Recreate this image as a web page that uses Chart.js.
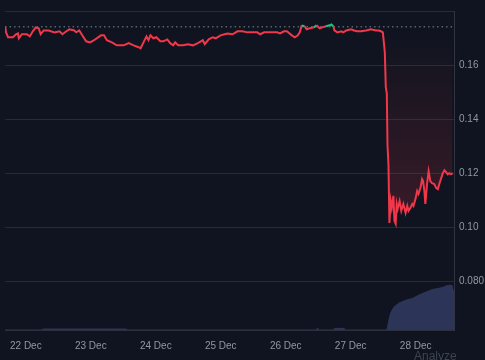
<!DOCTYPE html>
<html>
<head>
<meta charset="utf-8">
<script src="https://cdn.jsdelivr.net/npm/chart.js@4"></script>
<style>
  html, body { margin: 0; padding: 0; background: #0f1420; }
  #wrap { position: relative; width: 485px; height: 360px; overflow: hidden; }
  #analyze { position: absolute; left: 414px; top: 349px; font: 12px "Liberation Sans", Arial, sans-serif; color: #3d434f; }
</style>
</head>
<body>
<div id="wrap">
  <canvas id="c" width="485" height="360"></canvas>
  <div id="analyze">Analyze</div>
</div>
<script>
// x values are days of December (decimal)
const priceDays = [21.680,21.696,21.726,21.802,21.848,21.878,21.893,21.939,22.015,22.061,22.107,22.152,22.198,22.228,22.274,22.350,22.441,22.518,22.563,22.624,22.670,22.746,22.776,22.822,22.868,22.928,22.989,23.050,23.157,23.202,23.248,23.324,23.400,23.507,23.583,23.659,23.735,23.766,23.811,23.857,23.887,23.918,23.963,24.009,24.070,24.116,24.177,24.222,24.268,24.298,24.344,24.420,24.496,24.572,24.648,24.724,24.754,24.815,24.877,24.922,24.998,25.059,25.104,25.181,25.257,25.333,25.409,25.486,25.562,25.607,25.668,25.714,25.790,25.866,25.912,25.973,26.018,26.094,26.140,26.186,26.216,26.247,26.292,26.323,26.368,26.429,26.475,26.521,26.551,26.612,26.673,26.703,26.734,26.749,26.795,26.855,26.886,26.932,27.008,27.053,27.099,27.160,27.236,27.312,27.388,27.434,27.464,27.495,27.525,27.540,27.556,27.566,27.581,27.596,27.616,27.632,27.657,27.673,27.692,27.708,27.723,27.753,27.779,27.810,27.845,27.871,27.890,27.921,27.947,27.966,27.997,28.023,28.043,28.073,28.099,28.114,28.134,28.149,28.175,28.199,28.225,28.251,28.286,28.317,28.342,28.367,28.393,28.418,28.443,28.469,28.494,28.518,28.543,28.569];
const priceValues = [0.1742,0.1721,0.1703,0.1703,0.1714,0.1717,0.1699,0.1714,0.1714,0.1706,0.1725,0.1739,0.1736,0.1714,0.1728,0.1728,0.1721,0.1725,0.1714,0.1725,0.1732,0.1728,0.1721,0.1728,0.1710,0.1688,0.1684,0.1692,0.1710,0.1710,0.1692,0.1684,0.1673,0.1673,0.1681,0.1673,0.1666,0.1662,0.1684,0.1706,0.1692,0.1710,0.1699,0.1703,0.1688,0.1688,0.1695,0.1681,0.1673,0.1684,0.1673,0.1673,0.1677,0.1673,0.1681,0.1692,0.1677,0.1695,0.1703,0.1699,0.1710,0.1714,0.1717,0.1714,0.1725,0.1725,0.1721,0.1721,0.1721,0.1714,0.1721,0.1721,0.1721,0.1721,0.1717,0.1725,0.1725,0.1710,0.1703,0.1710,0.1721,0.1747,0.1743,0.1732,0.1736,0.1739,0.1747,0.1736,0.1739,0.1743,0.1747,0.1750,0.1743,0.1728,0.1721,0.1725,0.1721,0.1728,0.1732,0.1728,0.1725,0.1725,0.1728,0.1732,0.1728,0.1728,0.1725,0.1721,0.1648,0.1519,0.1494,0.1306,0.1233,0.1016,0.1097,0.1072,0.1116,0.1024,0.1013,0.1086,0.1068,0.1097,0.1061,0.1086,0.1053,0.1079,0.1061,0.1072,0.1086,0.1079,0.1105,0.1134,0.1123,0.1145,0.1178,0.1171,0.1134,0.1086,0.1160,0.1207,0.1171,0.1163,0.1160,0.1145,0.1141,0.1163,0.1182,0.1200,0.1211,0.1204,0.1196,0.1200,0.1196,0.1200];
const baseValue = 0.1742;

const volumeDays = [21.680,22.250,22.260,23.550,23.560,26.460,26.480,26.500,26.520,26.730,26.750,26.900,26.920,27.540,27.566,27.586,27.616,27.662,27.738,27.845,27.951,28.043,28.149,28.256,28.347,28.423,28.499,28.560,28.575,28.585];
const volumeValues = [0,0,0.3,0.3,0,0,0.4,0.4,0,0,0.5,0.5,0,0,0.6,3.0,5.3,7.1,8.4,9.3,9.9,10.9,11.8,12.7,13.0,13.4,14.0,14.0,12.4,0];

const xTickDays = [22,23,24,25,26,27,28];
const xTickLabels = ['22 Dec','23 Dec','24 Dec','25 Dec','26 Dec','27 Dec','28 Dec'];
const yTickValues = [0.08,0.10,0.12,0.14,0.16,0.18];
const yTickLabels = ['0.080','0.10','0.12','0.14','0.16',''];

const X_MIN = 21.68, X_MAX = 28.59, Y_MIN = 0.062, Y_MAX = 0.18;

const RED = '#f0384a', GREEN = '#22c47e';

const priceData = priceDays.map((d, i) => ({x: d, y: priceValues[i]}));
const volumeData = volumeDays.map((d, i) => ({x: d, y: volumeValues[i]}));

const belowGradient = (ctx) => {
  const chart = ctx.chart;
  const area = chart.chartArea;
  if (!area) return 'rgba(240,56,72,0.05)';
  const ys = chart.scales.y;
  const top = ys.getPixelForValue(baseValue);
  const bot = ys.getPixelForValue(0.10);
  const g = chart.ctx.createLinearGradient(0, top, 0, bot);
  g.addColorStop(0, 'rgba(240,56,72,0.0)');
  g.addColorStop(1, 'rgba(240,56,72,0.20)');
  return g;
};

new Chart(document.getElementById('c'), {
  type: 'line',
  data: {
    datasets: [
      {
        label: 'price',
        data: priceData,
        yAxisID: 'y',
        borderColor: RED,
        borderWidth: 2,
        pointRadius: 0,
        tension: 0,
        backgroundColor: belowGradient,
        fill: {target: {value: baseValue}, above: 'rgba(34,196,126,0.10)'},
        segment: {
          borderColor: (c) => ((c.p0.parsed.y + c.p1.parsed.y) / 2 > baseValue ? GREEN : RED)
        },
        order: 1
      },
      {
        label: 'base',
        data: [{x: X_MIN, y: baseValue}, {x: X_MAX, y: baseValue}],
        yAxisID: 'y',
        borderColor: '#5c616c',
        borderWidth: 1.5,
        borderDash: [1.5, 3],
        pointRadius: 0,
        fill: false,
        order: 2
      },
      {
        label: 'volume',
        data: volumeData,
        yAxisID: 'y1',
        borderColor: '#2e365c',
        borderWidth: 1,
        backgroundColor: '#2c3458',
        pointRadius: 0,
        tension: 0,
        fill: 'origin',
        order: 3
      }
    ]
  },
  options: {
    responsive: false,
    animation: false,
    events: [],
    layout: {padding: {top: 8, left: 0, right: 0, bottom: 0}},
    plugins: {legend: {display: false}, tooltip: {enabled: false}},
    scales: {
      x: {
        type: 'linear',
        min: X_MIN,
        max: X_MAX,
        afterBuildTicks: (s) => { s.ticks = xTickDays.map(v => ({value: v})); },
        afterFit: (s) => { s.height = 30; },
        grid: {display: false, drawTicks: false},
        border: {display: true, color: '#2a2f3b', width: 1},
        ticks: {
          padding: 10,
          color: '#9298a2',
          font: {size: 10, family: '"Liberation Sans", Arial, sans-serif'},
          maxRotation: 0,
          callback: (v) => { const i = xTickDays.indexOf(v); return i >= 0 ? xTickLabels[i] : ''; }
        }
      },
      y: {
        position: 'right',
        min: Y_MIN,
        max: Y_MAX,
        afterBuildTicks: (s) => { s.ticks = yTickValues.map(v => ({value: v})); },
        afterFit: (s) => { s.width = 31; },
        grid: {color: '#262b36', drawTicks: false, lineWidth: 1},
        border: {display: true, color: '#2f3440', width: 1},
        ticks: {
          padding: 5,
          color: '#9298a2',
          font: {size: 10, family: '"Liberation Sans", Arial, sans-serif'},
          callback: (v) => { const i = yTickValues.findIndex(t => Math.abs(t - v) < 1e-9); return i >= 0 ? yTickLabels[i] : ''; }
        }
      },
      y1: {
        display: false,
        min: 0,
        max: 100
      }
    }
  }
});
</script>
</body>
</html>
